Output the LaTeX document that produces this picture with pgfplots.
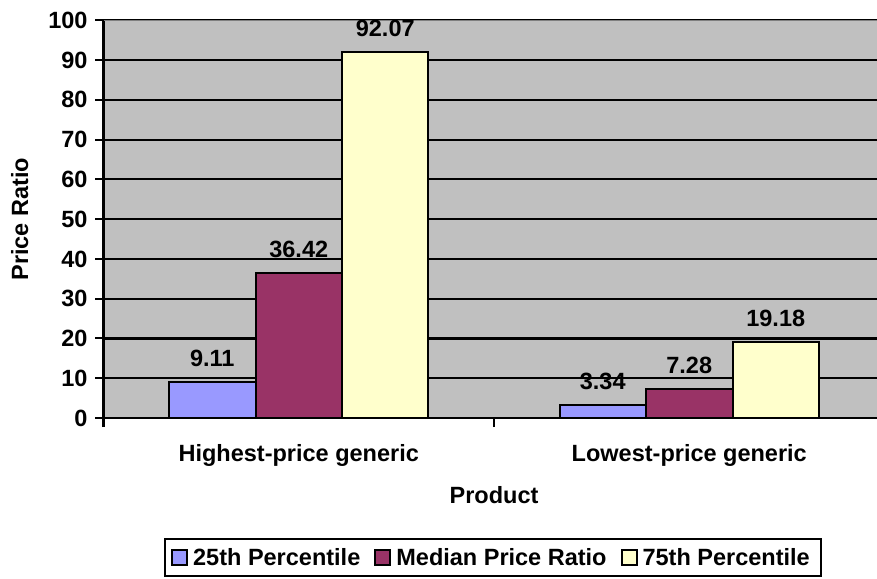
\documentclass[border=0pt]{standalone}
\usepackage{fontspec}
\setmainfont{Liberation Sans}
\usepackage{pgfplots}
\pgfplotsset{compat=1.18}

\definecolor{pblue}{HTML}{9999FF}
\definecolor{pplum}{HTML}{993366}
\definecolor{pcream}{HTML}{FFFFCC}
\definecolor{pgray}{HTML}{C0C0C0}
\definecolor{pborder}{HTML}{808080}

\newcommand{\lbl}{\fontsize{23.5bp}{27bp}\selectfont\bfseries}

\begin{document}
\begin{tikzpicture}
\begin{axis}[
  at={(103.5bp,161bp)}, anchor=south west,
  width=781bp, height=397.7bp, scale only axis,
  xmin=0, xmax=2, ymin=0, ymax=100,
  axis background/.style={fill=pgray},
  axis lines=left,
  axis line style={-, black, line width=2.2bp},
  ytick={0,10,...,100},
  ymajorgrids,
  grid style={black, line width=2.2bp},
  xtick={0.5,1.5},
  xticklabels={Highest-price generic, Lowest-price generic},
  major x tick style={draw=none},
  minor xtick={0,1,2},
  tick align=outside,
  major tick length=8bp,
  minor tick length=9bp,
  tick style={black, line width=2bp},
  /pgf/number format/assume math mode=true,
  every tick label/.append style={font=\lbl},
  x tick label style={anchor=base, yshift=-35.5bp},
  y tick label style={xshift=-4.5bp},
  ylabel={Price Ratio},
  ylabel style={font=\lbl, at={(axis description cs:-0.1074,0.5)}, anchor=center},
  xlabel={Product},
  xlabel style={font=\lbl, at={(axis description cs:0.5,-0.2162)}, anchor=base},
  ybar, bar width=0.2215,
  nodes near coords,
  nodes near coords style={font=\lbl, yshift=11bp,
    /pgf/number format/fixed, /pgf/number format/fixed zerofill,
    /pgf/number format/precision=2},
  legend columns=-1,
  legend style={
    at={(axis description cs:0.4987,-0.351)}, anchor=center,
    draw=black, line width=2bp, font=\lbl,
    inner xsep=6bp, inner ysep=4bp,
    nodes={inner sep=5bp},
    /tikz/every odd column/.append style={column sep=0bp},
    /tikz/every even column/.append style={column sep=9bp}
  },
  legend image code/.code={\draw[#1] (0bp,-7.5bp) rectangle (15bp,7.5bp);},
]
\addplot[fill=pblue, draw=black, line width=2bp, bar shift=-0.2215]
  coordinates {(0.5,9.11) (1.5,3.34)};
\addplot[fill=pplum, draw=black, line width=2bp, bar shift=0]
  coordinates {(0.5,36.42) (1.5,7.28)};
\addplot[fill=pcream, draw=black, line width=2bp, bar shift=0.2215]
  coordinates {(0.5,92.07) (1.5,19.18)};
\legend{25th Percentile, Median Price Ratio, 75th Percentile}
% grey frame along the top of the plot area
\draw[pborder, line width=2.4bp] (axis cs:0,100) -- (axis cs:2,100);
\end{axis}
\pgfresetboundingbox
\useasboundingbox (0,0) rectangle (877bp,579bp);
\end{tikzpicture}
\end{document}
